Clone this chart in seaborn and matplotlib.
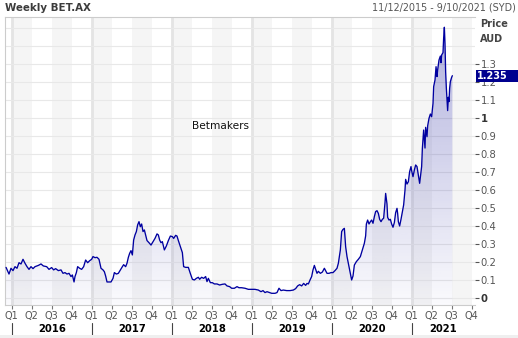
import numpy as np
import pandas as pd
import matplotlib
matplotlib.use("Agg")
import matplotlib.pyplot as plt
import matplotlib.transforms as mtrans
from matplotlib.patches import Rectangle
import seaborn as sns

# ---- data (decimal year, price AUD) ----
years = [
    2015.929, 2015.966, 2015.991, 2016.016, 2016.041, 2016.066, 2016.091, 2016.116, 2016.141, 2016.166,
    2016.191, 2016.216, 2016.241, 2016.266, 2016.291, 2016.333, 2016.366, 2016.395, 2016.437, 2016.466,
    2016.499, 2016.524, 2016.549, 2016.583, 2016.616, 2016.641, 2016.666, 2016.691, 2016.716, 2016.741,
    2016.758, 2016.779, 2016.791, 2016.808, 2016.824, 2016.849, 2016.874, 2016.899, 2016.924, 2016.949,
    2016.974, 2016.999, 2017.016, 2017.041,
    2017.066, 2017.091, 2017.116, 2017.141, 2017.158, 2017.174, 2017.191, 2017.216, 2017.241, 2017.266,
    2017.283, 2017.308, 2017.333, 2017.358, 2017.383, 2017.399, 2017.424, 2017.441, 2017.458, 2017.474,
    2017.491, 2017.508, 2017.524, 2017.541, 2017.558, 2017.574, 2017.591, 2017.608, 2017.624, 2017.641,
    2017.658, 2017.674, 2017.691, 2017.716, 2017.741, 2017.766, 2017.791, 2017.816, 2017.833, 2017.849,
    2017.866, 2017.883, 2017.908, 2017.933, 2017.958, 2017.983, 2018.008, 2018.024, 2018.049, 2018.066,
    2018.083, 2018.108, 2018.133, 2018.149, 2018.174,
    2018.208, 2018.229, 2018.258, 2018.283, 2018.308, 2018.333, 2018.349, 2018.374, 2018.399, 2018.424,
    2018.441, 2018.458, 2018.483, 2018.508, 2018.533, 2018.566, 2018.599, 2018.633, 2018.666, 2018.691,
    2018.724, 2018.749, 2018.783, 2018.816, 2018.841, 2018.874, 2018.916, 2018.958, 2018.999, 2019.041,
    2019.083, 2019.116, 2019.141, 2019.166, 2019.191, 2019.224, 2019.249, 2019.291,
    2019.316, 2019.341, 2019.366, 2019.395, 2019.437, 2019.479, 2019.520, 2019.549, 2019.574, 2019.599,
    2019.624, 2019.649, 2019.674, 2019.691, 2019.708, 2019.733, 2019.749, 2019.766, 2019.783, 2019.799,
    2019.816, 2019.833, 2019.858, 2019.883, 2019.908, 2019.924, 2019.941, 2019.966, 2019.991, 2020.016,
    2020.041, 2020.066, 2020.083, 2020.108, 2020.124, 2020.141, 2020.158, 2020.174, 2020.191, 2020.216,
    2020.233, 2020.249, 2020.266, 2020.283, 2020.308, 2020.333, 2020.358, 2020.383, 2020.408, 2020.424,
    2020.433, 2020.449, 2020.466, 2020.483, 2020.499, 2020.516, 2020.533, 2020.549, 2020.566, 2020.583,
    2020.599, 2020.616, 2020.633, 2020.649, 2020.666, 2020.674, 2020.683, 2020.691, 2020.699, 2020.716,
    2020.733, 2020.749, 2020.766, 2020.783, 2020.799, 2020.816, 2020.824, 2020.833, 2020.849, 2020.866,
    2020.883, 2020.899, 2020.916, 2020.924, 2020.941, 2020.958, 2020.974, 2020.991, 2020.999, 2021.016,
    2021.033, 2021.049, 2021.066, 2021.083, 2021.099, 2021.108, 2021.124, 2021.133, 2021.149, 2021.166,
    2021.174, 2021.191, 2021.199, 2021.216, 2021.233, 2021.249, 2021.266, 2021.274, 2021.291, 2021.304,
    2021.316, 2021.324, 2021.341, 2021.358, 2021.366, 2021.374, 2021.391, 2021.399, 2021.408, 2021.416,
    2021.424, 2021.433, 2021.441, 2021.449, 2021.458, 2021.466, 2021.474, 2021.483, 2021.499, 2021.508,
]
prices = [
    0.170, 0.133, 0.165, 0.152, 0.174, 0.165, 0.196, 0.189, 0.215, 0.193,
    0.174, 0.159, 0.174, 0.163, 0.174, 0.181, 0.189, 0.178, 0.174, 0.159,
    0.169, 0.156, 0.163, 0.152, 0.156, 0.137, 0.141, 0.133, 0.137, 0.119,
    0.128, 0.089, 0.119, 0.141, 0.174, 0.165, 0.159, 0.174, 0.211, 0.196,
    0.207, 0.215, 0.230, 0.224,
    0.226, 0.215, 0.165, 0.156, 0.146, 0.122, 0.089, 0.089, 0.089, 0.109,
    0.141, 0.133, 0.137, 0.156, 0.174, 0.185, 0.174, 0.193, 0.226, 0.248,
    0.263, 0.239, 0.322, 0.350, 0.369, 0.406, 0.424, 0.396, 0.411, 0.369,
    0.378, 0.350, 0.319, 0.307, 0.294, 0.313, 0.331, 0.356, 0.350, 0.322,
    0.307, 0.313, 0.267, 0.289, 0.319, 0.344, 0.341, 0.331, 0.348, 0.344,
    0.319, 0.285, 0.252, 0.174, 0.170,
    0.170, 0.141, 0.104, 0.100, 0.109, 0.115, 0.104, 0.115, 0.109, 0.119,
    0.091, 0.109, 0.085, 0.085, 0.078, 0.078, 0.072, 0.076, 0.078, 0.067,
    0.063, 0.054, 0.054, 0.063, 0.057, 0.057, 0.054, 0.048, 0.048, 0.048,
    0.044, 0.035, 0.041, 0.030, 0.035, 0.030, 0.026, 0.026,
    0.030, 0.054, 0.041, 0.044, 0.041, 0.041, 0.044, 0.052, 0.067, 0.074,
    0.067, 0.081, 0.070, 0.081, 0.078, 0.104, 0.119, 0.156, 0.181, 0.159,
    0.137, 0.148, 0.137, 0.144, 0.165, 0.152, 0.137, 0.137, 0.141, 0.141,
    0.152, 0.165, 0.193, 0.267, 0.369, 0.381, 0.387, 0.285, 0.230, 0.174,
    0.137, 0.100, 0.122, 0.183, 0.202, 0.215, 0.230, 0.267, 0.304, 0.345,
    0.411, 0.433, 0.411, 0.424, 0.433, 0.415, 0.452, 0.480, 0.485, 0.470,
    0.437, 0.424, 0.437, 0.443, 0.530, 0.581, 0.548, 0.522, 0.448, 0.433,
    0.437, 0.411, 0.393, 0.419, 0.474, 0.498, 0.470, 0.424, 0.400, 0.437,
    0.480, 0.517, 0.600, 0.659, 0.633, 0.646, 0.702, 0.730, 0.707, 0.674,
    0.711, 0.739, 0.730, 0.683, 0.637, 0.670, 0.730, 0.831, 0.933, 0.833,
    0.948, 0.896, 0.956, 0.998, 1.022, 1.007, 1.081, 1.174, 1.211, 1.285,
    1.230, 1.267, 1.322, 1.344, 1.307, 1.350, 1.363, 1.443, 1.504, 1.415,
    1.257, 1.165, 1.104, 1.041, 1.115, 1.091, 1.165, 1.202, 1.226, 1.235,
]
year_labels = [2016, 2017, 2018, 2019, 2020, 2021]
quarter_labels = ["Q1", "Q2", "Q3", "Q4"]
ytick_values = [0.0, 0.1, 0.2, 0.3, 0.4, 0.5, 0.6, 0.7, 0.8, 0.9, 1.0, 1.1, 1.2, 1.3]
last_price_label = "1.235"
title = "Weekly BET.AX"
range_text = "11/12/2015 - 9/10/2021 (SYD)"
series_name = "Betmakers"

df = pd.DataFrame({"year": years, "price": prices})

sns.set_theme(style="white")
plt.rcParams["font.family"] = ["DejaVu Sans"]

W, H = 518, 338
fig = plt.figure(figsize=(W / 100, H / 100), dpi=100)
fig.patch.set_facecolor("white")
ax = fig.add_axes([5 / W, 33 / H, 470 / W, 288 / H])
ax.set_facecolor("white")

XMIN, XMAX = 2015.916, 2021.791
YMIN, YMAX = -0.039, 1.561

# quarter bands & year lines
for yr in year_labels:
    for q in (0, 2):
        ax.axvspan(yr + q * 0.25, yr + (q + 1) * 0.25, color="#f5f5f5", lw=0, zorder=0)
    ax.axvline(yr, color="#e4e4e4", lw=2.0, zorder=0.5)
for v in np.arange(0, 1.55, 0.1):
    ax.axhline(v, color="#e8e8e8", lw=0.8, zorder=0.6)

# gradient fill under the line
fill = ax.fill_between(df["year"], df["price"], YMIN, facecolor="none", lw=0, zorder=1)
n = 256
g = np.linspace(YMIN, YMAX, n)
rgba = np.zeros((n, 1, 4))
rgba[..., 0] = 60 / 255
rgba[..., 1] = 60 / 255
rgba[..., 2] = 170 / 255
rgba[..., 3] = np.clip(0.035 + 0.24 * g, 0, 1)[:, None]
im = ax.imshow(rgba, extent=[XMIN, XMAX, YMIN, YMAX], origin="lower",
               aspect="auto", zorder=1, interpolation="bilinear")
im.set_clip_path(fill.get_paths()[0], transform=ax.transData)

sns.lineplot(data=df, x="year", y="price", ax=ax, color="#0000a0",
             lw=0.95, sort=False, zorder=3)
ax.set_xlabel("")
ax.set_ylabel("")
ax.set_xlim(XMIN, XMAX)
ax.set_ylim(YMIN, YMAX)

# y axis on the right
ax.yaxis.tick_right()
ax.set_yticks(ytick_values)
ylabels = [("%g" % v) for v in ytick_values]
ax.set_yticklabels(ylabels)
ax.tick_params(axis="y", length=2.6, pad=1.5, labelsize=7.2, colors="#555555",
               width=0.8, right=True, left=False)
for t in ax.get_yticklabels():
    if t.get_text() in ("0", "1"):
        t.set_fontweight("bold")
        t.set_color("#333333")

# quarter ticks
qpos = [yr + q * 0.25 for yr in year_labels for q in range(4)]
qlab = [quarter_labels[q] for yr in year_labels for q in range(4)]
ax.set_xticks(qpos)
ax.set_xticklabels(qlab)
ax.tick_params(axis="x", length=3, pad=1.5, labelsize=7, labelcolor="#555555",
               color="#777777", width=0.8, bottom=True)

# year labels & separators
trans = mtrans.blended_transform_factory(ax.transData, ax.transAxes)
for yr in year_labels:
    c = (max(yr, XMIN) + min(yr + 1, XMAX)) / 2
    ax.text(c, -24 / 288, str(yr), transform=trans, ha="center", va="center",
            fontsize=7.2, fontweight="bold", color="black")
    ax.plot([yr, yr], [-18 / 288, -30 / 288], transform=trans, clip_on=False,
            color="#444444", lw=0.8)

for name, s in ax.spines.items():
    s.set_color("#cccccc")
    s.set_linewidth(0.8)
ax.spines["right"].set_visible(False)

# series label
ax.text(2018.604, 0.956, series_name, ha="center", va="center", fontsize=7.6, color="#111111")

# last price box
btrans = mtrans.blended_transform_factory(fig.transFigure, ax.transData)
last = prices[-1]
ax.add_patch(Rectangle((476 / W, last - 0.034), 42 / W, 0.063, transform=btrans,
                       facecolor="#00008f", edgecolor="none", clip_on=False, zorder=5))
ax.text(477 / W, last - 0.002, last_price_label, transform=btrans, ha="left", va="center",
        fontsize=7, fontweight="bold", color="white", zorder=6, clip_on=False)

# header texts
fig.text(5 / W, 1 - 10.8 / H, title, ha="left", va="baseline", fontsize=7.4,
         fontweight="bold", color="#3c3c3c")
fig.text(516 / W, 1 - 10.8 / H, range_text, ha="right", va="baseline", fontsize=6.9,
         color="#555555")
fig.text(480 / W, 1 - 24 / H, "Price", ha="left", va="center", fontsize=7,
         fontweight="bold", color="#444444")
fig.text(480 / W, 1 - 39 / H, "AUD", ha="left", va="center", fontsize=7,
         fontweight="bold", color="#444444")

fig.patches.append(Rectangle((0, 0), 1, 3 / H, transform=fig.transFigure,
                             facecolor="#efefef", edgecolor="none", zorder=0))

fig.savefig("out.png", dpi=100)
